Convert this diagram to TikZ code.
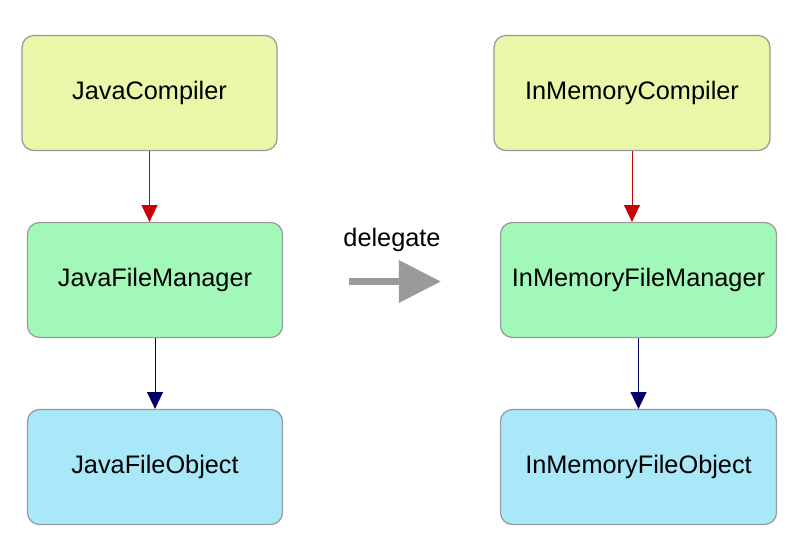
\documentclass[tikz,border=0pt]{standalone}
\usepackage{fontspec}
\setmainfont{Liberation Sans}
\usetikzlibrary{arrows.meta}
\definecolor{compfill}{HTML}{E8F8A8}
\definecolor{mgrfill}{HTML}{A2F8B8}
\definecolor{objfill}{HTML}{A8E8F8}
\definecolor{boxline}{HTML}{9A9A9A}
\definecolor{redline}{HTML}{CC0000}
\definecolor{navyline}{HTML}{000066}
\definecolor{delegrey}{HTML}{9A9A9A}

\begin{document}
\begin{tikzpicture}[x=0.025cm,y=-0.025cm,
  box/.style={draw=boxline,line width=0.9pt,rounded corners=0.3cm,minimum height=2.875cm,font=\fontsize{18}{20}\selectfont},
  lbox/.style={box,minimum width=6.375cm},
  rbox/.style={box,minimum width=6.9cm},
  link/.style={-{Triangle[length=0.42cm,width=0.4cm]},line width=0.7pt}]
\useasboundingbox (0,0) rectangle (788,552);

\node[lbox,fill=compfill] (jc) at (149.5,93) {JavaCompiler};
\node[lbox,fill=mgrfill] (jfm) at (155,280) {JavaFileManager};
\node[lbox,fill=objfill] (jfo) at (155,467) {JavaFileObject};

\node[rbox,fill=compfill] (mc) at (632,93) {InMemoryCompiler};
\node[rbox,fill=mgrfill] (mfm) at (638.5,280) {InMemoryFileManager};
\node[rbox,fill=objfill] (mfo) at (638.5,467) {InMemoryFileObject};

\draw[link,redline] (jc.south) -- (jc.south |- jfm.north);
\draw[link,navyline] (jfm.south) -- (jfo.north);
\draw[link,redline] (mc.south) -- (mc.south |- mfm.north);
\draw[link,navyline] (mfm.south) -- (mfo.north);

\coordinate (from) at (349,281.5);
\coordinate (to) at (441,281.5);
\draw[-{Triangle[length=1.05cm,width=1.02cm]},line width=0.175cm,delegrey] (from) -- (to);
\node[font=\fontsize{18}{20}\selectfont] (dlg) at (392,240) {delegate};

\end{tikzpicture}
\end{document}
